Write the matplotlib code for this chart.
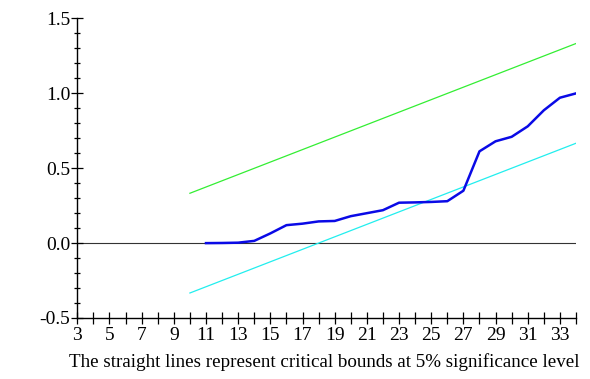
import matplotlib
matplotlib.use("Agg")
import matplotlib.pyplot as plt
import numpy as np

# Data
obs = list(range(11, 35))
cusumsq = [0.0, 0.001, 0.003, 0.015, 0.065, 0.12, 0.13, 0.145, 0.148, 0.18,
           0.20, 0.22, 0.27, 0.272, 0.275, 0.28, 0.35, 0.613, 0.68, 0.71,
           0.78, 0.887, 0.971, 1.0]
bound_x = [10, 34]
upper_bound = [0.333, 1.333]
lower_bound = [-0.333, 0.667]
x_tick_vals = list(range(3, 35))
x_tick_labels = [str(v) if v % 2 == 1 else "" for v in x_tick_vals]
y_tick_vals = [-0.5, 0.0, 0.5, 1.0, 1.5]
y_tick_labels = ["-0.5", "0.0", "0.5", "1.0", "1.5"]
caption = "The straight lines represent critical bounds at 5% significance level"

plt.rcParams['font.family'] = ['Liberation Serif', 'DejaVu Serif']

fig = plt.figure(figsize=(5.9, 3.79), dpi=100)
ax = fig.add_axes([77.3/590, 1-318/379, (576-77.3)/590, (318-18.5)/379])

ax.axhline(0, color='#333333', lw=0.8, zorder=1)
ax.plot(bound_x, upper_bound, color='#33ee33', lw=0.9, zorder=2)
ax.plot(bound_x, lower_bound, color='#22eeee', lw=0.9, zorder=2)
ax.plot(obs, cusumsq, color='#0a0ae6', lw=1.8, zorder=3)

ax.set_xlim(3, 34)
ax.set_ylim(-0.5, 1.5)
ax.spines['top'].set_visible(False)
ax.spines['right'].set_visible(False)
ax.spines['left'].set_linewidth(1.0)
ax.spines['bottom'].set_linewidth(1.0)
ax.spines['left'].set_clip_on(False)

ax.set_xticks(x_tick_vals)
ax.set_xticklabels(x_tick_labels)
ax.set_yticks(y_tick_vals)
ax.set_yticklabels(y_tick_labels)
ax.set_yticks(np.arange(-0.5, 1.51, 0.1), minor=True)

ax.tick_params(axis='x', which='major', direction='inout', length=8.5, width=0.9,
               labelsize=14, pad=2.5, color='black')
ax.tick_params(axis='y', which='major', direction='inout', length=8, width=0.9,
               labelsize=14, pad=1, color='black')
ax.tick_params(axis='y', which='minor', direction='inout', length=5, width=0.9,
               color='black')

for t in ax.get_xticklines() + ax.get_yticklines():
    t.set_clip_on(False)

fig.text(324/590, 1-362/379, caption, ha='center', va='center', fontsize=13.7)

fig.savefig("out.png", dpi=100)
